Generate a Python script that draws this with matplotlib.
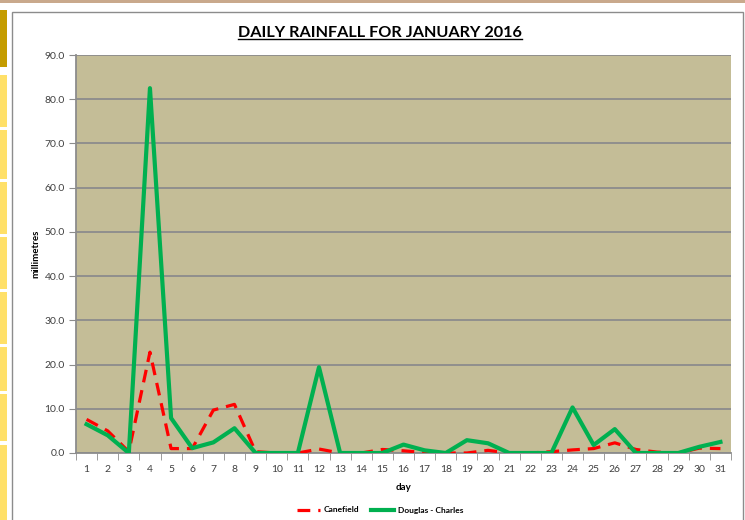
import matplotlib.pyplot as plt
from matplotlib.patches import Rectangle
from matplotlib.lines import Line2D
import numpy as np

days = list(range(1, 32))
canefield = [7.6, 5.0, 0.3, 22.8, 1.0, 1.0, 9.7, 11.0, 0.3, 0.0, 0.0, 0.9, 0.0, 0.0, 0.8, 0.5,
             0.1, 0.0, 0.0, 0.6, 0.0, 0.0, 0.3, 0.7, 1.0, 2.3, 0.8, 0.2, 0.0, 1.1, 1.0]
douglas = [6.5, 4.0, 0.0, 82.5, 7.9, 1.1, 2.4, 5.6, 0.0, 0.0, 0.0, 19.4, 0.0, 0.0, 0.0, 1.9,
           0.6, 0.0, 2.9, 2.2, 0.0, 0.0, 0.0, 10.3, 1.8, 5.4, 0.0, 0.0, 0.0, 1.4, 2.5]
y_ticks = np.arange(0, 91, 10)

plt.rcParams['font.family'] = ['Lato', 'DejaVu Sans']

W, H = 745, 520
fig = plt.figure(figsize=(W / 100, H / 100), dpi=100)

# screenshot decorations: top strip, left sidebar, chart frame
fig.add_artist(Rectangle((0, 1 - 3 / H), 1, 3 / H, transform=fig.transFigure, color='#C9A98C', lw=0))
fig.add_artist(Rectangle((0, 1 - 67 / H), 7 / W, 57 / H, transform=fig.transFigure, color='#C49C00', lw=0))
for y0, y1 in [(75, 127), (130, 179), (182, 234), (237, 289), (292, 344), (347, 391), (394, 441), (445, 520)]:
    fig.add_artist(Rectangle((0, 1 - y1 / H), 7 / W, (y1 - y0) / H, transform=fig.transFigure,
                             color='#FFE068', lw=0))
fig.add_artist(Rectangle((12 / W, -0.01), (743 - 12) / W, 1 - 12 / H + 0.01, transform=fig.transFigure,
                         fill=False, ec='#8C8C8C', lw=1))

ax = fig.add_axes([76 / W, (H - 453) / H, (731 - 76) / W, (453 - 55) / H])
ax.set_facecolor('#C4BD97')

ax.plot(days, canefield, color='#FF0000', lw=2.3, ls=(0, (4, 2.5)), label='Canefield', zorder=3)
ax.plot(days, douglas, color='#00B050', lw=3, label='Douglas - Charles', zorder=4)

ax.set_xlim(0.5, 31.5)
ax.set_ylim(0, 90)
ax.set_yticks(y_ticks)
ax.set_yticklabels([f'{v:.1f}' for v in y_ticks], fontsize=7.5, color='#404040')
ax.set_xticks(days)
ax.set_xticklabels([str(d) for d in days], fontsize=7.5, color='#404040')
ax.set_xticks(np.arange(0.5, 32, 1), minor=True)
ax.tick_params(axis='x', which='major', length=0, pad=9)
ax.tick_params(axis='x', which='minor', length=5, color='#8C8C8C', direction='out')
ax.tick_params(axis='y', length=5, color='#8C8C8C', direction='out', pad=3)
ax.grid(axis='y', color='#8C8C8C', lw=1.3)
ax.set_axisbelow(True)
for s in ['top', 'right']:
    ax.spines[s].set_visible(False)
for s in ['left', 'bottom']:
    ax.spines[s].set_color('#8C8C8C')
    ax.spines[s].set_linewidth(1.3)

ax.set_xlabel('day', fontsize=7, fontweight='bold', labelpad=6)
ax.set_ylabel('millimetres', fontsize=7, fontweight='bold', labelpad=3)

title = fig.text(380 / W, 1 - 33 / H, 'DAILY RAINFALL FOR JANUARY 2016', ha='center', va='center',
                 fontsize=11.7, fontweight='bold')
fig.canvas.draw()
bb = title.get_window_extent().transformed(fig.transFigure.inverted())
fig.add_artist(Line2D([bb.x0, bb.x1], [bb.y0 + 0.002, bb.y0 + 0.002], transform=fig.transFigure,
                      color='black', lw=1))

fig.legend(loc='center', bbox_to_anchor=(380 / W, 1 - 510 / H), ncol=2, frameon=False,
           prop={'size': 6, 'weight': 'bold'}, handlelength=2.8, handletextpad=0.4, columnspacing=1.4)

fig.savefig('out.png', dpi=100)
